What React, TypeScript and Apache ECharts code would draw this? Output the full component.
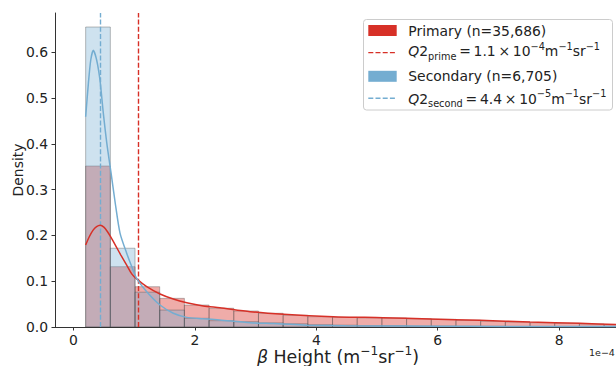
import React, { useEffect, useRef } from "react";
import * as echarts from "echarts";

// ---- data ----
const binStart = 0.2;
const binWidth = 0.4067;
const primaryDensity = [0.3515, 0.1317, 0.088, 0.0626, 0.048, 0.041, 0.035, 0.03, 0.0255, 0.0225, 0.021, 0.02, 0.0195, 0.018, 0.0168, 0.0146, 0.0124, 0.011, 0.0094, 0.008, 0.0066, 0.005];
const secondaryDensity = [0.655, 0.172, 0.076, 0.037, 0.019, 0.0138, 0.0116, 0.009, 0.007, 0.005, 0.004, 0.003, 0.003, 0.002, 0.002, 0.0015, 0.0015, 0.001, 0.001, 0.001, 0.001, 0.001];

const primaryKdeX = [0.2, 0.26, 0.32, 0.38, 0.44, 0.5, 0.56, 0.62, 0.7, 0.78, 0.876, 0.959, 1.04, 1.206, 1.425, 1.644, 1.865, 2.138, 2.41, 2.91, 3.46, 4.28, 5.1, 5.87, 6.7, 7.52, 8.34, 9.0];
const primaryKdeY = [0.179, 0.197, 0.211, 0.219, 0.222, 0.218, 0.208, 0.195, 0.176, 0.157, 0.135, 0.116, 0.105, 0.088, 0.072, 0.061, 0.053, 0.046, 0.042, 0.0334, 0.0277, 0.0225, 0.0203, 0.0175, 0.0146, 0.011, 0.008, 0.005];

const secondaryKdeX = [0.2, 0.245, 0.284, 0.326, 0.381, 0.436, 0.491, 0.55, 0.62, 0.69, 0.766, 0.876, 0.959, 1.04, 1.206, 1.425, 1.644, 1.865, 2.138, 2.41, 2.91, 3.3, 3.57, 3.84, 4.5, 5.5, 6.5, 7.5, 8.5, 9.0];
const secondaryKdeY = [0.459, 0.532, 0.583, 0.604, 0.583, 0.539, 0.467, 0.4, 0.335, 0.268, 0.205, 0.161, 0.132, 0.106, 0.077, 0.048, 0.03, 0.021, 0.018, 0.0153, 0.0094, 0.0075, 0.0059, 0.004, 0.0028, 0.002, 0.0015, 0.0012, 0.001, 0.001];

const q2Prime = 1.067;
const q2Second = 0.44;

const xTicks = [0, 2, 4, 6, 8];
const yTicks = [0, 0.1, 0.2, 0.3, 0.4, 0.5, 0.6];

const primaryLabel = "Primary (n=35,686)";
const secondaryLabel = "Secondary (n=6,705)";
const q2PrimeLabel = "{q|Q}{n|2}{sub|prime}{n|\u2009=\u20091.1\u2009×\u200910}{sup|−4}{n|m}{sup|−1}{n|sr}{sup|−1}";
const q2SecondLabel = "{q|Q}{n|2}{sub|second}{n|\u2009=\u20094.4\u2009×\u200910}{sup|−5}{n|m}{sup|−1}{n|sr}{sup|−1}";
const xAxisTitle = "{b|β}{n| Height (m}{sup|−1}{n|sr}{sup|−1}{n|)}";
const yAxisTitle = "Density";
const offsetText = "1e−4";

// ---- styles ----
const RED = "#d73027";
const BLUE = "#74add1";
const FONT = "DejaVu Sans";
const TXT = "#222222";

function histData(values: number[]) {
  return values.map((d, i) => [binStart + i * binWidth, binStart + (i + 1) * binWidth, d]);
}

function histSeries(name: string, values: number[], fill: string) {
  return {
    type: "custom",
    name,
    clip: true,
    encode: { x: [0, 1], y: 2 },
    data: histData(values),
    renderItem: (params: any, api: any) => {
      const p0 = api.coord([api.value(0), api.value(2)]);
      const p1 = api.coord([api.value(1), 0]);
      return {
        type: "rect",
        shape: { x: p0[0], y: p0[1], width: p1[0] - p0[0], height: p1[1] - p0[1] },
        style: { fill, stroke: "rgba(70,70,70,0.45)", lineWidth: 0.8 },
      };
    },
    z: 2,
  };
}

const richStyles = (fs: number, lh: number) => ({
  q: { fontFamily: FONT, fontSize: fs, fontStyle: "italic", lineHeight: lh, fill: TXT, color: TXT },
  b: { fontFamily: FONT, fontSize: fs, fontStyle: "italic", lineHeight: lh, fill: TXT, color: TXT },
  n: { fontFamily: FONT, fontSize: fs, lineHeight: lh, fill: TXT, color: TXT },
  sub: { fontFamily: FONT, fontSize: fs * 0.7, lineHeight: fs * 0.7, verticalAlign: "bottom", fill: TXT, color: TXT },
  sup: { fontFamily: FONT, fontSize: fs * 0.7, lineHeight: fs * 0.7, verticalAlign: "top", fill: TXT, color: TXT },
});

function textEl(text: string, x: number, y: number, opts: any = {}) {
  return {
    type: "text",
    x,
    y,
    rotation: opts.rotation || 0,
    z: 100,
    style: {
      text,
      fontFamily: FONT,
      fontSize: opts.fontSize || 13.9,
      fill: TXT,
      align: opts.align || "left",
      textAlign: opts.align || "left",
      verticalAlign: "middle",
      textVerticalAlign: "middle",
      rich: opts.rich,
    },
  };
}

export default function App() {
  const ref = useRef<HTMLDivElement>(null);
  useEffect(() => {
    if (!ref.current) return;
    const chart = echarts.init(ref.current, undefined, { renderer: "svg" });
    const legendX = 368.3;
    const textX = 408.3;
    const option: any = {
      animation: false,
      backgroundColor: "#ffffff",
      grid: { left: 55, right: 0, top: 13, bottom: 39, containLabel: false },
      xAxis: {
        type: "value",
        min: -0.305,
        max: 8.937,
        axisLine: { show: true, onZero: false, lineStyle: { color: "#333", width: 1 } },
        axisTick: { show: true, length: 3.5, customValues: xTicks, lineStyle: { color: "#333", width: 1 } },
        axisLabel: { customValues: xTicks, fontFamily: FONT, fontSize: 13.9, color: TXT, margin: 6, formatter: (v: number) => String(v) },
        splitLine: { show: false },
      },
      yAxis: {
        type: "value",
        min: 0,
        max: 0.6856,
        axisLine: { show: true, onZero: false, lineStyle: { color: "#333", width: 1 } },
        axisTick: { show: true, length: 3.5, customValues: yTicks, lineStyle: { color: "#333", width: 1 } },
        axisLabel: { customValues: yTicks, fontFamily: FONT, fontSize: 13.9, color: TXT, margin: 7, formatter: (v: number) => v.toFixed(1) },
        splitLine: { show: false },
      },
      series: [
        histSeries("Primary", primaryDensity, "rgba(215,48,39,0.4)"),
        histSeries("Secondary", secondaryDensity, "rgba(116,173,209,0.35)"),
        {
          type: "line",
          name: "Primary KDE",
          data: primaryKdeX.map((x, i) => [x, primaryKdeY[i]]),
          showSymbol: false,
          smooth: 0.25,
          lineStyle: { color: RED, width: 1.5 },
          z: 5,
          markLine: {
            silent: true,
            symbol: "none",
            label: { show: false },
            lineStyle: { color: RED, width: 1.4, type: [5, 2.2] },
            data: [{ xAxis: q2Prime }],
          },
        },
        {
          type: "line",
          name: "Secondary KDE",
          data: secondaryKdeX.map((x, i) => [x, secondaryKdeY[i]]),
          showSymbol: false,
          smooth: 0.25,
          lineStyle: { color: BLUE, width: 1.5 },
          z: 5,
          markLine: {
            silent: true,
            symbol: "none",
            label: { show: false },
            lineStyle: { color: BLUE, width: 1.4, type: [5, 2.2] },
            data: [{ xAxis: q2Second }],
          },
        },
      ],
      graphic: [
        // axis titles
        textEl(yAxisTitle, 17.5, 170, { rotation: Math.PI / 2, align: "center", fontSize: 13.9 }),
        textEl(xAxisTitle, 338, 357.3, { align: "center", fontSize: 17.4, rich: richStyles(17.4, 25) }),
        textEl(offsetText, 589, 352.7, { fontSize: 9.5 }),
        // legend box
        {
          type: "rect",
          z: 90,
          shape: { x: 363.5, y: 19.5, width: 249, height: 90.5, r: 3 },
          style: { fill: "rgba(255,255,255,0.8)", stroke: "#cccccc", lineWidth: 1 },
        },
        {
          type: "rect",
          z: 95,
          shape: { x: legendX, y: 25, width: 28.4, height: 11 },
          style: { fill: RED },
        },
        {
          type: "line",
          z: 95,
          shape: { x1: legendX, y1: 52.6, x2: legendX + 28.4, y2: 52.6 },
          style: { stroke: RED, lineWidth: 1.4, lineDash: [5, 2.2] },
        },
        {
          type: "rect",
          z: 95,
          shape: { x: legendX, y: 70.8, width: 28.4, height: 11 },
          style: { fill: BLUE },
        },
        {
          type: "line",
          z: 95,
          shape: { x1: legendX, y1: 98.3, x2: legendX + 28.4, y2: 98.3 },
          style: { stroke: BLUE, lineWidth: 1.4, lineDash: [5, 2.2] },
        },
        textEl(primaryLabel, textX, 30.5),
        textEl(q2PrimeLabel, textX, 51, { rich: richStyles(13.9, 20) }),
        textEl(secondaryLabel, textX, 76.2),
        textEl(q2SecondLabel, textX, 98.5, { rich: richStyles(13.9, 20) }),
      ],
    };
    chart.setOption(option);
    return () => chart.dispose();
  }, []);
  return <div ref={ref} style={{ position: "absolute", left: 0, top: 0, width: 616, height: 366 }} />;
}
